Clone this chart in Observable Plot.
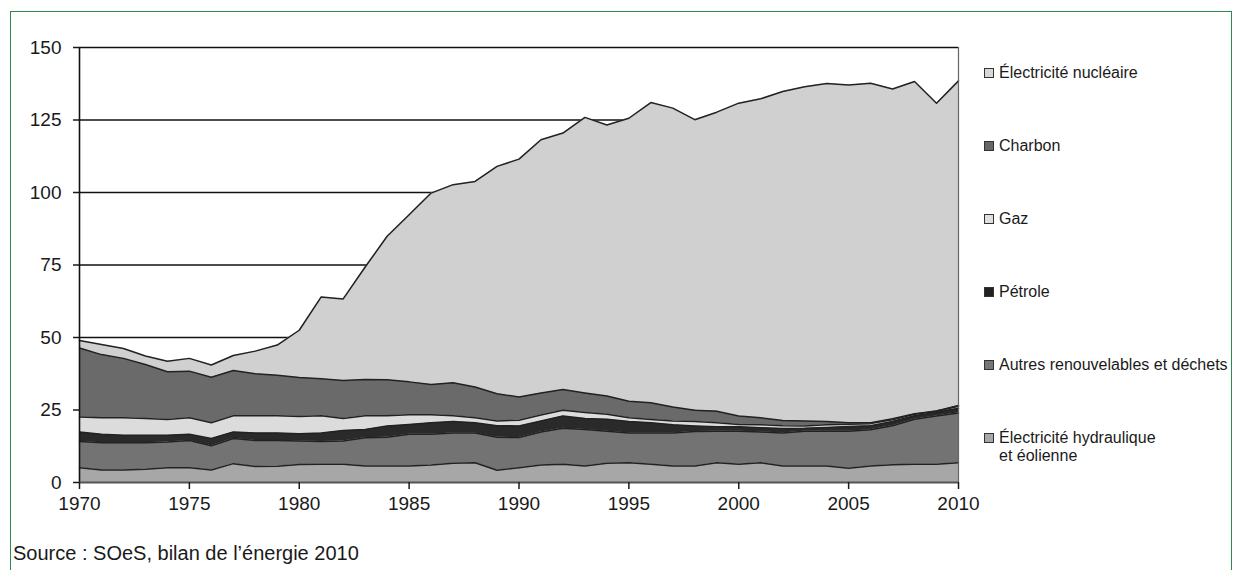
<!DOCTYPE html>
<html><head><meta charset="utf-8">
<script src="https://cdn.jsdelivr.net/npm/d3@7"></script>
<script src="https://cdn.jsdelivr.net/npm/@observablehq/plot@0.6"></script>
<style>
body{margin:0;background:#fff;font-family:"Liberation Sans",Arial,sans-serif;}
#wrap{position:relative;width:1244px;height:570px;overflow:hidden;background:#fff;}
#frame{position:absolute;left:10px;top:11px;width:1222px;height:620px;border:1px solid #2e8a4c;box-sizing:border-box;}
#chart{position:absolute;left:0;top:0;}
.leg{position:absolute;left:984px;font-size:16px;color:#1a1a1a;line-height:18px;white-space:nowrap;}
.sw{position:absolute;left:0;top:4px;width:8px;height:8px;border:1px solid #333;}
.lt{position:absolute;left:15px;top:0;}
#source{position:absolute;left:13px;top:542px;font-size:20px;color:#1a1a1a;line-height:22px;}
</style></head>
<body>
<div id="wrap">
<div id="frame"></div>
<div id="chart"></div>
<div id="legend"></div>
<div id="source">Source : SOeS, bilan de l’énergie 2010</div>
</div>
<script>
const years = [1970,1971,1972,1973,1974,1975,1976,1977,1978,1979,1980,1981,1982,1983,1984,1985,1986,1987,1988,1989,1990,1991,1992,1993,1994,1995,1996,1997,1998,1999,2000,2001,2002,2003,2004,2005,2006,2007,2008,2009,2010];
const hydraulique = [5.1,4.3,4.3,4.6,5.1,5.1,4.3,6.5,5.5,5.6,6.2,6.3,6.3,5.7,5.7,5.7,6.0,6.6,6.8,4.2,5.1,6.0,6.3,5.7,6.6,6.8,6.3,5.7,5.7,6.8,6.3,6.8,5.7,5.7,5.7,4.9,5.7,6.1,6.3,6.3,6.8];
const autres = [9.0,9.4,9.4,9.1,8.9,9.4,8.4,8.7,9.0,8.9,8.1,7.8,8.0,9.7,9.9,10.9,10.6,10.5,10.3,11.4,10.4,11.4,12.4,12.6,11.1,10.3,10.8,11.4,11.9,10.9,11.4,10.6,11.4,12.0,12.0,12.8,12.5,13.5,15.5,16.6,17.2];
const petrole = [3.3,2.9,2.6,2.6,2.3,2.1,2.5,2.2,2.6,2.6,2.5,3.0,3.6,2.9,3.9,3.4,4.0,3.9,3.5,4.0,4.0,3.8,4.2,3.8,4.1,3.9,3.5,2.8,1.9,1.5,1.5,1.5,1.5,1.0,1.3,1.6,1.4,1.4,1.2,1.2,1.6];
const gaz = [5.2,5.7,6.0,5.8,5.4,5.7,5.4,5.6,5.9,5.9,6.0,5.9,4.2,4.7,3.5,3.4,2.8,2.0,1.7,1.6,2.0,2.1,2.0,2.0,1.7,1.3,1.1,1.3,1.5,1.4,0.8,1.0,1.0,0.8,0.9,0.8,0.7,0.6,0.5,0.4,0.7];
const charbon = [23.8,21.8,20.5,18.6,16.5,16.1,15.7,15.6,14.5,14.0,13.4,12.8,13.1,12.5,12.4,11.3,10.4,11.4,10.6,9.4,8.0,7.6,7.2,6.8,6.3,5.7,5.8,4.8,3.9,4.0,2.9,2.4,1.8,1.7,1.1,0.5,0.3,0.4,0.2,0.2,0.3];
const nucleaire = [2.6,3.5,3.4,2.9,3.6,4.4,4.2,5.2,7.8,10.4,16.3,28.2,28.1,38.8,49.5,57.6,66.0,68.3,70.9,78.4,82.0,87.3,88.4,95.0,93.5,97.6,103.5,103.1,100.2,103.1,107.9,110.0,113.4,115.3,116.6,116.5,117.1,113.7,114.6,106.1,111.9];

const seriesNames = ["Électricité hydraulique et éolienne","Autres renouvelables et déchets","Pétrole","Gaz","Charbon","Électricité nucléaire"];
const seriesValues = [hydraulique, autres, petrole, gaz, charbon, nucleaire];
const seriesColors = ["#a7a7a7","#737373","#2a2a2a","#dcdcdc","#6a6a6a","#d0d0d0"];
const legendLabels = [["Électricité nucléaire"],["Charbon"],["Gaz"],["Pétrole"],["Autres renouvelables et déchets"],["Électricité hydraulique","et éolienne"]];
const legendColors = ["#d8d8d8","#666666","#e0e0e0","#222222","#767676","#a7a7a7"];
const xTicks = [1970,1975,1980,1985,1990,1995,2000,2005,2010];
const yTicks = [0,25,50,75,100,125,150];

const data = [];
seriesNames.forEach((name, s) => years.forEach((yr, i) => data.push({year: yr, serie: name, value: seriesValues[s][i]})));

const chart = Plot.plot({
  width: 1244, height: 570,
  marginLeft: 79, marginRight: 286, marginTop: 47, marginBottom: 88,
  x: {domain: [1970, 2010]},
  y: {domain: [0, 150]},
  color: {domain: seriesNames, range: seriesColors},
  style: {fontFamily: "'Liberation Sans', Arial, sans-serif", fontSize: "19px", color: "#1a1a1a", background: "transparent"},
  marks: [
    Plot.ruleY(yTicks.filter(d => d > 0), {stroke: "#111", strokeWidth: 1.4}),
    Plot.areaY(data, {x: "year", y: "value", z: "serie", fill: "serie", order: null}),
    Plot.lineY(data, Plot.stackY2({x: "year", y: "value", z: "serie", order: null, stroke: "#222", strokeWidth: 1.5})),
    Plot.ruleX([2010], {stroke: "#666", strokeWidth: 1.2}),
    Plot.ruleX([1970], {stroke: "#111", strokeWidth: 1.6}),
    Plot.ruleY([0], {stroke: "#555", strokeWidth: 2}),
    Plot.axisX({ticks: xTicks, tickFormat: d => String(d), tickSize: 7, tickPadding: 7, label: null, fontSize: 19, strokeWidth: 1.5}),
    Plot.axisY({ticks: yTicks, tickSize: 6, tickPadding: 12, label: null, fontSize: 19, strokeWidth: 1.5})
  ]
});
document.getElementById("chart").appendChild(chart);

const legendTops = [64, 137, 210, 283, 356, 429];
const leg = document.getElementById("legend");
legendLabels.forEach((lines, i) => {
  const d = document.createElement("div");
  d.className = "leg";
  d.style.top = legendTops[i] + "px";
  d.innerHTML = `<div class="sw" style="background:${legendColors[i]}"></div><div class="lt">${lines.join("<br>")}</div>`;
  leg.appendChild(d);
});
</script>
</body></html>
